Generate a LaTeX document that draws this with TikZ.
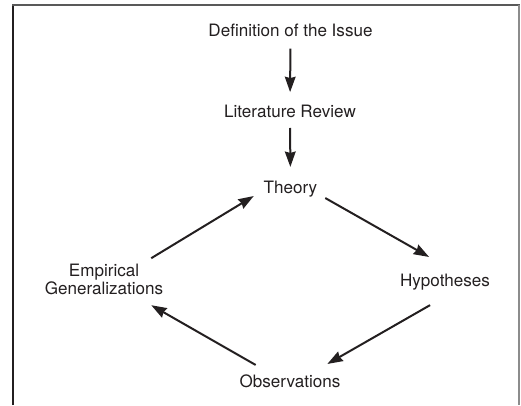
\documentclass[tikz,border=0pt]{standalone}
\usepackage{fontspec}
\setmainfont{TeX Gyre Heros}
\usetikzlibrary{arrows.meta, positioning}
\tikzset{>={Stealth[length=11.5pt,width=8pt,inset=1pt]}}
\definecolor{ink}{HTML}{231F20}

\begin{document}
\begin{tikzpicture}[x=0.75pt, y=-0.75pt, line width=1.5pt, color=ink,
	every node/.style={inner sep=0pt, font=\fontsize{12.8}{13.7}\selectfont}]
	\useasboundingbox (0,0) rectangle (521,405);
	% frame, open at the bottom
	\draw[line width=2pt] (13,405) -- (13,5);
	\draw[line width=2pt, black!65] (12,5) -- (520,5);
	\draw[line width=1pt, black!45] (519,5) -- (519,405);
	\node[anchor=base] (def) at (290.5,36) {Definition of the Issue};
	\node[anchor=base] (lit) at (290,117) {Literature Review};
	\node[anchor=base] (theory) at (290.5,193.3) {Theory};
	\node[anchor=base] (hyp) at (445,286) {Hypotheses};
	\node[anchor=base] (obs) at (290,387.7) {Observations};
	\node[align=center] (emp) at (104,279.7) {Empirical\\Generalizations};
	\draw [->, shorten <=8.6pt, shorten >=8.6pt](def)--(lit);
	\draw [->, shorten <=7.3pt, shorten >=9.7pt](lit)--(theory);
	\draw [->]([shift={(7,0)}]theory.south east)--([shift={(30,-15.6)}]hyp.north west);
	\draw [->]([shift={(31,14.4)}]hyp.south west)--([shift={(-14,-10)}]obs.north east);
	\draw [->]([shift={(17,-9)}]obs.north west)--([shift={(-13,9)}]emp.south east);
	\draw [->]([shift={(-13,-5)}]emp.north east)--([shift={(-9,-2)}]theory.south west);
	%\node at (290,60) {};
\end{tikzpicture}
\end{document}
